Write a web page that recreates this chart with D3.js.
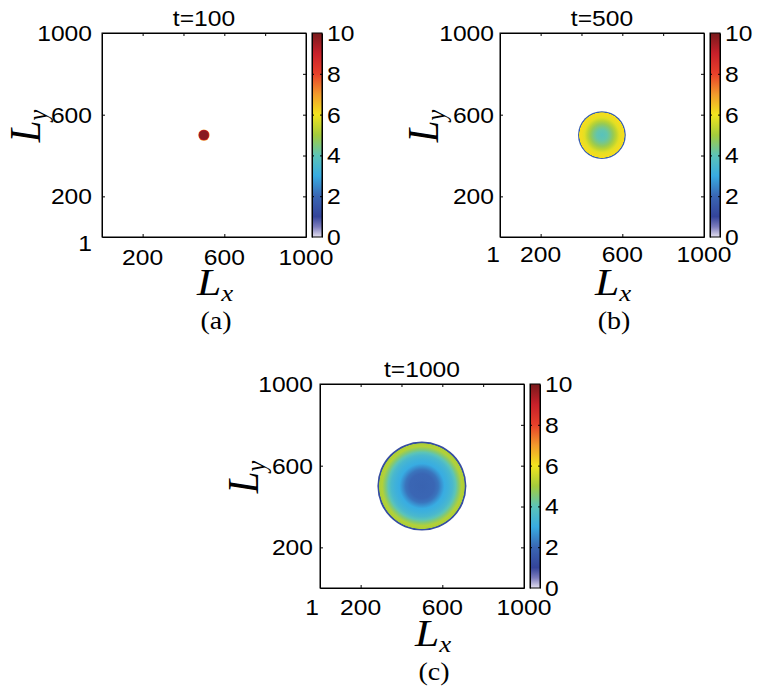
<!DOCTYPE html>
<html>
<head>
<meta charset="utf-8">
<script src="https://cdn.jsdelivr.net/npm/d3@7"></script>
<style>
  body { margin: 0; background: #fff; }
  svg text { fill: #000; }
  .num { font-family: "Liberation Sans", Arial, sans-serif; font-size: 22px; }
  .lbl { font-family: "Liberation Serif", "Times New Roman", serif; font-style: italic; }
  .tag { font-family: "Liberation Serif", "Times New Roman", serif; font-size: 25px; }
  .axis path, .axis line { stroke: #000; stroke-width: 1; }
</style>
</head>
<body>
<div id="fig"></div>
<script>
// ---- data ----
const panelTitles = ['t=100', 't=500', 't=1000'];
const panelTags = ['(a)', '(b)', '(c)'];
const axisTickLabels = [1, 200, 600, 1000];
const minorTicks = [200, 400, 600, 800];
const cbarTicks = [0, 2, 4, 6, 8, 10];

// colormap (value -> colour) as printed on the colour bar
const cmapValues = [0, 0.5, 1, 2, 3, 4, 5, 6, 7, 8, 9, 10];
const cmapColors = ['#e4e0f0', '#7c7cbc', '#34449a', '#3a66b4', '#38ace2', '#5cc4b8',
                    '#a4cc3c', '#f2e41e', '#f29a2c', '#e8402a', '#c8202a', '#781a1c'];

// radial profiles around the centre (500,500): radius (lattice units) -> value, outside in
const radiusA = [28, 25, 21, 0];
const valueA  = [6.8, 8.8, 9.8, 9.8];
const radiusB = [117, 112, 110, 100, 85, 70, 55, 40, 25, 0];
const valueB  = [1.6, 1.9, 6.1, 6.1, 5.8, 5.3, 4.8, 4.4, 4.1, 3.9];
const radiusC = [218, 211, 208, 195, 180, 165, 150, 130, 110, 95, 80, 60, 0];
const valueC  = [1.1, 1.4, 5.1, 5.2, 4.6, 4.0, 3.5, 3.2, 3.0, 2.6, 2.2, 2.0, 1.9];
const centre = [500, 500];

// ---- layout ----
const panels = [
  { left: 102, top: 33, radius: radiusA, value: valueA, oneX: 85, oneY: 251, yLabGap: 10, xLabDy: 28 },
  { left: 500, top: 33, radius: radiusB, value: valueB, oneX: 493, oneY: null, yLabGap: 6, xLabDy: 25 },
  { left: 320, top: 384, radius: radiusC, value: valueC, oneX: 312, oneY: null, yLabGap: 7, xLabDy: 27 }
];
const size = 204;
const stretch = 1.12; // the printed figure is slightly wide

const svg = d3.select('#fig').append('svg').attr('width', 762).attr('height', 694);
const defs = svg.append('defs');

const colour = d3.scaleLinear().domain(cmapValues).range(cmapColors).clamp(true);

function wideText(parent, cls, x, y, anchor, str) {
  return parent.append('text').attr('class', cls)
    .attr('transform', 'translate(' + x + ',' + y + ') scale(' + stretch + ',1)')
    .attr('text-anchor', anchor).text(str);
}

// gradient for the colour bars
const grad = defs.append('linearGradient')
  .attr('id', 'cbar').attr('x1', 0).attr('y1', 1).attr('x2', 0).attr('y2', 0);
grad.selectAll('stop').data(cmapValues).enter().append('stop')
  .attr('offset', d => d / 10)
  .attr('stop-color', (d, i) => cmapColors[i]);

panels.forEach(function(p, k) {
  const x = d3.scaleLinear().domain([1, 1000]).range([0, size]);
  const y = d3.scaleLinear().domain([1, 1000]).range([size, 0]);
  const g = svg.append('g').attr('transform', 'translate(' + p.left + ',' + p.top + ')');

  // density field: radial gradient built from the profile
  const rOuter = p.radius[0];
  const rg = defs.append('radialGradient').attr('id', 'field' + k);
  const stops = p.radius.map((r, i) => ({ off: r / rOuter, v: p.value[i] })).reverse();
  rg.selectAll('stop').data(stops).enter().append('stop')
    .attr('offset', d => d.off)
    .attr('stop-color', d => colour(d.v));

  g.append('circle')
    .attr('cx', x(centre[0]))
    .attr('cy', y(centre[1]))
    .attr('r', x(centre[0] + rOuter) - x(centre[0]))
    .attr('fill', 'url(#field' + k + ')');

  // frame + inward ticks
  g.append('rect').attr('width', size).attr('height', size)
    .attr('fill', 'none').attr('stroke', '#000');
  g.append('g').attr('class', 'axis').attr('transform', 'translate(0,' + size + ')')
    .call(d3.axisBottom(x).tickValues([200, 600]).tickSize(-3).tickFormat('').tickSizeOuter(0));
  g.append('g').attr('class', 'axis')
    .call(d3.axisTop(x).tickValues(minorTicks).tickSize(-3).tickFormat('').tickSizeOuter(0));
  g.append('g').attr('class', 'axis')
    .call(d3.axisLeft(y).tickValues([200, 600]).tickSize(-3).tickFormat('').tickSizeOuter(0));
  g.append('g').attr('class', 'axis').attr('transform', 'translate(' + size + ',0)')
    .call(d3.axisRight(y).tickValues(minorTicks).tickSize(-3).tickFormat('').tickSizeOuter(0));
  g.selectAll('.axis path').attr('stroke', 'none');

  // tick labels
  axisTickLabels.filter(v => v > 1).forEach(function(v) {
    wideText(g, 'num', -p.yLabGap, y(v) + 8, 'end', v);
    wideText(g, 'num', x(v), size + p.xLabDy, 'middle', v);
  });
  wideText(svg, 'num', p.oneX, p.oneY === null ? p.top + size + p.xLabDy : p.oneY, 'middle', axisTickLabels[0]);

  // title
  wideText(g, 'num', size / 2, -7, 'middle', panelTitles[k]);

  // axis labels
  const lx = wideText(g, 'lbl', size / 2 + 11, size + 58, 'middle', null);
  lx.append('tspan').style('font-size', '39px').text('L');
  lx.append('tspan').style('font-size', '24px').attr('dy', 6).text('x');

  const ly = g.append('text').attr('class', 'lbl')
    .attr('transform', 'translate(-62,' + (size / 2 - 9) + ') scale(' + stretch + ',1) rotate(-90)')
    .attr('text-anchor', 'middle');
  ly.append('tspan').style('font-size', '39px').text('L');
  ly.append('tspan').style('font-size', '24px').attr('dy', 6).text('y');

  // panel tag
  wideText(g, 'tag', size / 2 + 12, size + 92, 'middle', panelTags[k]);

  // colour bar
  const c = d3.scaleLinear().domain([0, 10]).range([size, 0]);
  const cb = g.append('g').attr('transform', 'translate(' + (size + 6) + ',0)');
  cb.append('rect').attr('width', 10).attr('height', size)
    .attr('fill', 'url(#cbar)').attr('stroke', '#000');
  cb.append('g').attr('class', 'axis')
    .call(d3.axisLeft(c).tickValues([2, 4, 6, 8]).tickSize(-2).tickFormat('').tickSizeOuter(0));
  cb.append('g').attr('class', 'axis').attr('transform', 'translate(10,0)')
    .call(d3.axisRight(c).tickValues([2, 4, 6, 8]).tickSize(-2).tickFormat('').tickSizeOuter(0));
  cb.selectAll('.axis path').attr('stroke', 'none');
  cbarTicks.forEach(function(v) {
    wideText(cb, 'num', 15, c(v) + 8, 'start', v);
  });
});
</script>
</body>
</html>
